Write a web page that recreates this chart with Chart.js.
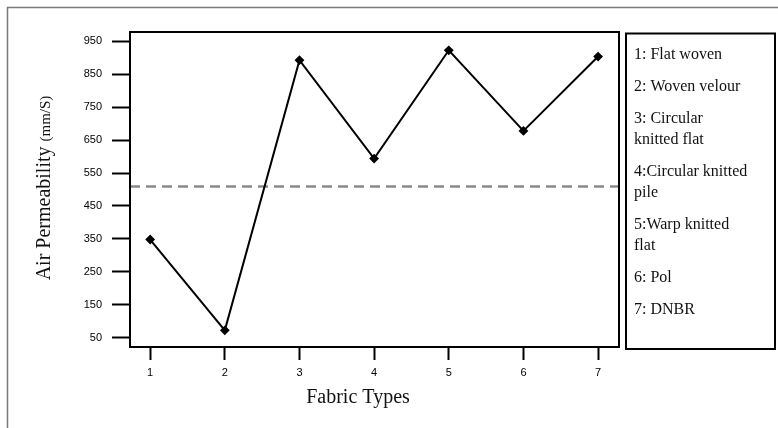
<!DOCTYPE html>
<html>
<head>
<meta charset="utf-8">
<script src="https://cdn.jsdelivr.net/npm/chart.js@4/dist/chart.umd.min.js"></script>
<style>
  html, body { margin: 0; padding: 0; background: #fff; }
  canvas { display: block; }
</style>
</head>
<body>
<canvas id="chart" width="778" height="428"></canvas>
<script>
// data
var FABRIC_TYPES = [1, 2, 3, 4, 5, 6, 7];
var AIR_PERM = [348, 72, 893, 594, 923, 678, 904];
var MEAN_LINE = 509;
var Y_TICKS = [50, 150, 250, 350, 450, 550, 650, 750, 850, 950];
var LEGEND_ITEMS = [
  ['1: Flat woven'],
  ['2: Woven velour'],
  ['3: Circular', 'knitted flat'],
  ['4:Circular knitted', 'pile'],
  ['5:Warp knitted', 'flat'],
  ['6: Pol'],
  ['7: DNBR']
];
var X_TITLE = 'Fabric Types';
var Y_TITLE_MAIN = 'Air Permeability';
var Y_TITLE_UNIT = '(mm/S)';

var X_MIN = 0.73, X_MAX = 7.28;
var Y_MIN = 21.4, Y_MAX = 978.6;

var SERIF = '"Liberation Serif", "Times New Roman", serif';
var SANS = '"Liberation Sans", Arial, sans-serif';

var framePlugin = {
  id: 'frame',
  afterDraw: function(chart) {
    var c = chart.ctx;
    var a = chart.chartArea;
    c.save();

    // outer page frame (top and left only visible)
    c.strokeStyle = '#7a7a7a';
    c.lineWidth = 1.5;
    c.beginPath();
    c.moveTo(7.5, 428); c.lineTo(7.5, 7.5); c.lineTo(778, 7.5);
    c.stroke();

    // plot box
    c.strokeStyle = '#000';
    c.lineWidth = 2;
    c.strokeRect(a.left, a.top, a.right - a.left, a.bottom - a.top);

    // legend box
    c.strokeRect(626, 33.5, 149, 315.5);
    c.fillStyle = '#111';
    c.font = '16px ' + SERIF;
    c.textBaseline = 'middle';
    c.textAlign = 'left';
    var y = 55;
    LEGEND_ITEMS.forEach(function(lines) {
      lines.forEach(function(t, i) {
        c.fillText(t, 634, y);
        if (i < lines.length - 1) y += 21;
      });
      y += 32;
    });

    // x title
    c.font = '20px ' + SERIF;
    c.textAlign = 'center';
    c.textBaseline = 'alphabetic';
    c.fillText(X_TITLE, 358, 403);

    // y title, two sizes on one baseline
    c.translate(50, 188);
    c.rotate(-Math.PI / 2);
    c.textAlign = 'left';
    var mainFont = '20px ' + SERIF, unitFont = '15px ' + SERIF;
    c.font = mainFont;
    var w1 = c.measureText(Y_TITLE_MAIN + ' ').width;
    c.font = unitFont;
    var w2 = c.measureText(Y_TITLE_UNIT).width;
    var x0 = -(w1 + w2) / 2;
    c.font = mainFont;
    c.fillText(Y_TITLE_MAIN + ' ', x0, 0);
    c.font = unitFont;
    c.fillText(Y_TITLE_UNIT, x0 + w1, 0);

    c.restore();
  }
};

new Chart(document.getElementById('chart'), {
  type: 'line',
  data: {
    datasets: [{
      label: 'Air permeability',
      data: FABRIC_TYPES.map(function(x, i) { return { x: x, y: AIR_PERM[i] }; }),
      borderColor: '#000',
      borderWidth: 2,
      backgroundColor: '#000',
      pointStyle: 'rectRot',
      pointRadius: 3.5,
      pointBackgroundColor: '#000',
      pointBorderColor: '#000',
      tension: 0
    }, {
      label: 'Mean',
      data: [{ x: X_MIN, y: MEAN_LINE }, { x: X_MAX, y: MEAN_LINE }],
      borderColor: '#8a8a8a',
      borderWidth: 2.5,
      borderDash: [10, 6],
      pointRadius: 0
    }]
  },
  options: {
    responsive: false,
    animation: false,
    layout: { padding: { left: 0, top: 32, right: 159, bottom: 0 } },
    plugins: { legend: { display: false }, tooltip: { enabled: false } },
    scales: {
      x: {
        type: 'linear',
        min: X_MIN, max: X_MAX,
        afterBuildTicks: function(s) { s.ticks = FABRIC_TYPES.map(function(v) { return { value: v }; }); },
        afterFit: function(s) { s.height = 81; },
        ticks: { color: '#000', font: { family: SANS, size: 11 }, padding: 6, maxRotation: 0, autoSkip: false },
        grid: { drawOnChartArea: false, drawTicks: true, tickLength: 13, tickWidth: 2, tickColor: '#000' },
        border: { display: false }
      },
      y: {
        min: Y_MIN, max: Y_MAX,
        afterBuildTicks: function(s) { s.ticks = Y_TICKS.map(function(v) { return { value: v }; }); },
        afterFit: function(s) { s.width = 130; },
        ticks: { color: '#000', font: { family: SANS, size: 11 }, padding: 10 },
        grid: { drawOnChartArea: false, drawTicks: true, tickLength: 18, tickWidth: 2, tickColor: '#000' },
        border: { display: false }
      }
    }
  },
  plugins: [framePlugin]
});
</script>
</body>
</html>
